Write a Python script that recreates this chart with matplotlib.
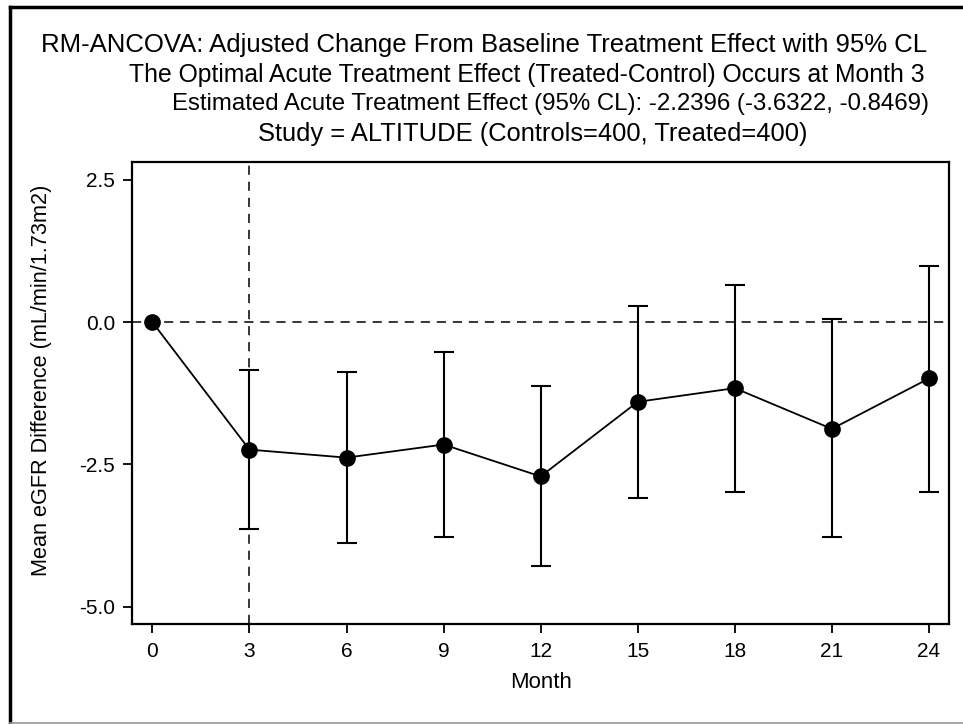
import matplotlib
matplotlib.use("Agg")
import matplotlib.pyplot as plt
from matplotlib.lines import Line2D
import numpy as np

plt.rcParams['font.family'] = ['Liberation Sans', 'DejaVu Sans']

# Data
months = [0, 3, 6, 9, 12, 15, 18, 21, 24]
estimate = [0.0, -2.2396, -2.38, -2.15, -2.71, -1.40, -1.16, -1.875, -0.99]
lower_cl = [np.nan, -3.6322, -3.88, -3.78, -4.29, -3.09, -2.975, -3.78, -2.975]
upper_cl = [np.nan, -0.8469, -0.88, -0.53, -1.125, 0.275, 0.645, 0.047, 0.99]
xticks = [0, 3, 6, 9, 12, 15, 18, 21, 24]
yticks = [2.5, 0.0, -2.5, -5.0]
ytick_labels = ["2.5", "0.0", "-2.5", "-5.0"]
optimal_month = 3
titles = [
    "RM-ANCOVA: Adjusted Change From Baseline Treatment Effect with 95% CL",
    "The Optimal Acute Treatment Effect (Treated-Control) Occurs at Month 3",
    "Estimated Acute Treatment Effect (95% CL): -2.2396 (-3.6322, -0.8469)",
    "Study = ALTITUDE (Controls=400, Treated=400)",
]

W, H = 963, 724
fig = plt.figure(figsize=(W / 100, H / 100), dpi=100)
ax = fig.add_axes([132.3 / W, 1 - 624.3 / H, (949 - 132.3) / W, (624.3 - 161.7) / H])

est = np.array(estimate)
lo = np.array(lower_cl)
hi = np.array(upper_cl)
mask = ~np.isnan(lo)
m = np.array(months)

ax.axhline(0, color='black', lw=1.1, ls=(0, (6, 4.5)), zorder=1)
ax.axvline(optimal_month, color='black', lw=1.1, ls=(0, (6, 4.5)), zorder=1)

ax.errorbar(m[mask], est[mask], yerr=[est[mask] - lo[mask], hi[mask] - est[mask]],
            fmt='none', ecolor='black', elinewidth=1.5, capsize=7, capthick=1.5, zorder=2)
ax.plot(m, est, color='black', lw=1.3, marker='o', markersize=11, zorder=3)

ax.set_xlim(-0.62, 24.62)
ax.set_ylim(-5.307, 2.817)
ax.set_xticks(xticks)
ax.set_xticklabels([str(t) for t in xticks])
ax.set_yticks(yticks)
ax.set_yticklabels(ytick_labels)
ax.tick_params(direction='out', length=6.5, width=1.3, labelsize=15, pad=6)
for s in ax.spines.values():
    s.set_linewidth(1.6)
ax.set_xlabel("Month", fontsize=16, labelpad=8)
ax.set_ylabel("Mean eGFR Difference (mL/min/1.73m2)", fontsize=15.6)
ax.yaxis.set_label_coords(-(132.3 - 52) / (949 - 132.3), (624.3 - 380) / (624.3 - 161.7))

# Titles
title_specs = [(484, 45, 18.5), (527, 75, 17.8), (551, 104, 17.3), (533, 134, 18.4)]
for txt, (cx, cy, fs) in zip(titles, title_specs):
    fig.text(cx / W, 1 - cy / H, txt, ha='center', va='center', fontsize=fs)

# Outer frame
fig.add_artist(Line2D([10 / W, 10 / W], [0, 1 - 7 / H], color='black', lw=2.5, transform=fig.transFigure))
fig.add_artist(Line2D([10 / W, 1], [1 - 7 / H, 1 - 7 / H], color='black', lw=2.5, transform=fig.transFigure))
fig.add_artist(Line2D([10 / W, 1], [1 - 722.5 / H, 1 - 722.5 / H], color='#999999', lw=1.2, transform=fig.transFigure))

fig.savefig("out.png", dpi=100)
